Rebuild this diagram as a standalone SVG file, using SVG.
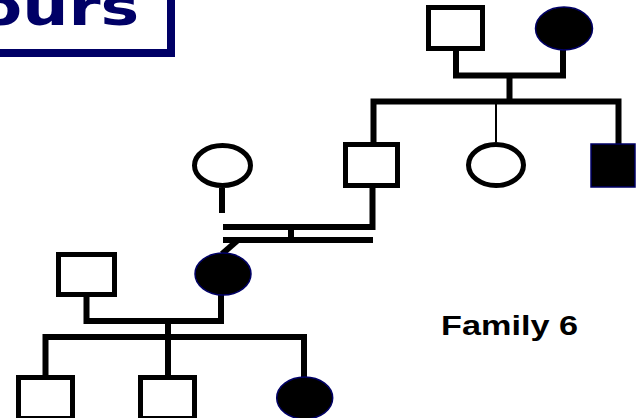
<svg xmlns="http://www.w3.org/2000/svg" width="636" height="418" viewBox="0 0 636 418">
<style>
.ln{fill:none;stroke:#000;stroke-width:6;stroke-linejoin:miter;stroke-linecap:butt}
.thin{fill:none;stroke:#000;stroke-width:2}
.open{fill:#fff;stroke:#000;stroke-width:5}
.aff{fill:#000;stroke:#000066;stroke-width:1.5}
.title{font-family:"DejaVu Sans",Verdana,sans-serif;font-weight:bold;font-size:52px;fill:#000066}
.lbl{font-family:"Liberation Sans",Arial,sans-serif;font-weight:bold;font-size:27px;fill:#000}
</style>
<rect width="636" height="418" fill="#fff"/>
<g id="title">
<rect x="-20" y="-20" width="191" height="73" fill="#fff" stroke="#000066" stroke-width="8"/>
<text class="title" x="0" y="25" transform="translate(-61,0) scale(1.25,1)">cours</text>
</g>
<g id="connectors">
<path class="ln" d="M456 51V75.5H563V50"/>
<path class="ln" d="M509.5 75.5V101.5"/>
<path class="ln" d="M373.5 142V101.5H618.5V144"/>
<path class="thin" d="M496 101.5V142"/>
<path class="ln" d="M222 188V213"/>
<path class="ln" d="M372.5 188V227H223"/>
<path class="ln" d="M291 227V240"/>
<path class="ln" d="M373 240H223"/>
<path class="ln" d="M238 240L222 254"/>
<path class="ln" d="M86.5 297V321H221V295"/>
<path class="ln" d="M168 321V375"/>
<path class="ln" d="M45.5 375V337H304V377"/>
</g>
<g id="gf"><rect class="open" x="428.5" y="7.5" width="54" height="41"/></g>
<g id="gm"><ellipse class="aff" cx="564" cy="28.5" rx="28.5" ry="21.5"/></g>
<g id="mother-in-law"><ellipse class="open" cx="222.5" cy="165.5" rx="28" ry="20"/></g>
<g id="son"><rect class="open" x="345.5" y="144.5" width="52" height="41"/></g>
<g id="daughter"><ellipse class="open" cx="496" cy="165" rx="27.5" ry="20.5"/></g>
<g id="son2"><rect class="aff" x="591" y="144" width="44" height="43"/></g>
<g id="spouse"><rect class="open" x="58.5" y="254.5" width="56" height="40"/></g>
<g id="proband-mother"><ellipse class="aff" cx="223" cy="274" rx="28" ry="21"/></g>
<g id="c1"><rect class="open" x="18.5" y="377.5" width="54" height="41"/></g>
<g id="c2"><rect class="open" x="140.5" y="377.5" width="54" height="41"/></g>
<g id="c3"><ellipse class="aff" cx="304.7" cy="398" rx="28" ry="21"/></g>
<g id="label"><text class="lbl" x="441" y="335" textLength="137" lengthAdjust="spacingAndGlyphs">Family 6</text></g>
</svg>
